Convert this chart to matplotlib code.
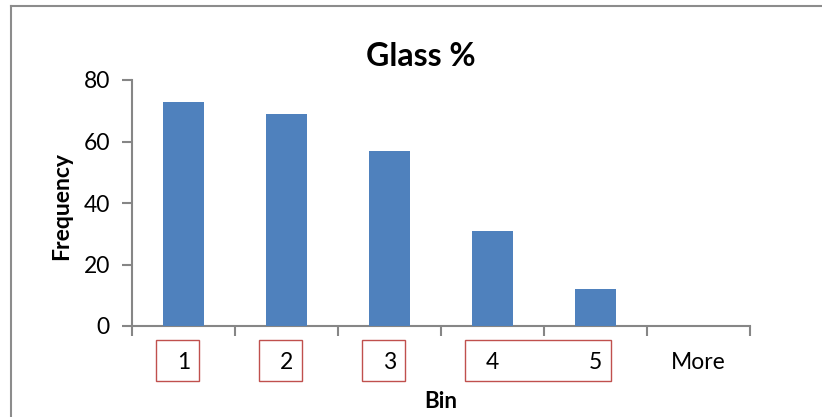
import matplotlib
matplotlib.use("Agg")
import matplotlib.pyplot as plt
from matplotlib.patches import Rectangle
from matplotlib.lines import Line2D
from matplotlib.transforms import blended_transform_factory
import numpy as np

plt.rcParams['font.family'] = ['Lato', 'DejaVu Sans']

bins = ["1", "2", "3", "4", "5", "More"]
frequency = [73, 69, 57, 31, 12, 0]
title = "Glass %"
x_label = "Bin"
y_label = "Frequency"
y_ticks = [0, 20, 40, 60, 80]

# highlighted bin groups: (first index, last index)
groups = [(0, 0), (1, 1), (2, 2), (3, 4)]

bar_color = "#4F81BD"
axis_color = "#868686"
box_color = "#C0504D"

W, H = 822, 417
fig = plt.figure(figsize=(W / 100, H / 100), dpi=100)
ax = fig.add_axes([132 / W, 1 - 326 / H, (750 - 132) / W, (326 - 80) / H])

x = np.arange(len(bins))
ax.bar(x, frequency, width=0.4, color=bar_color, zorder=3)

ax.set_xlim(-0.5, len(bins) - 0.5)
ax.set_ylim(0, 80)
ax.set_yticks(y_ticks)
ax.set_xticks(x)
ax.set_xticklabels(bins)
ax.set_xticks(np.arange(len(bins) + 1) - 0.5, minor=True)

for side in ("top", "right"):
    ax.spines[side].set_visible(False)
for side in ("left", "bottom"):
    ax.spines[side].set_color(axis_color)
    ax.spines[side].set_linewidth(1.5)

ax.tick_params(axis="y", direction="out", length=7, width=1.5, color=axis_color,
               labelsize=16.5, pad=9, labelcolor="black")
ax.tick_params(axis="x", which="major", length=0, labelsize=16.5, pad=19)
ax.tick_params(axis="x", which="minor", direction="out", length=7, width=1.5,
               color=axis_color)

# chart title centred over the whole chart area
fig.text(421 / W, 1 - 57 / H, title, fontsize=23, fontweight="bold",
         ha="center", va="center")
ax.set_xlabel(x_label, fontsize=16, fontweight="bold")
ax.xaxis.set_label_coords((441 - 132) / (750 - 132), (326 - 402) / 246)
ax.xaxis.label.set_va("center")
ax.set_ylabel(y_label, fontsize=16.5, fontweight="bold")
ax.yaxis.set_label_coords((62 - 132) / (750 - 132), (326 - 206) / 246)
ax.yaxis.label.set_va("center")

# red outlines around the grouped bin labels
trans = blended_transform_factory(ax.transData, ax.transAxes)
for lo, hi in groups:
    x0 = lo - 0.27
    x1 = hi + 0.15
    ax.add_patch(Rectangle((x0, -0.224), x1 - x0, 0.167, transform=trans,
                           fill=False, edgecolor=box_color, linewidth=1.0,
                           clip_on=False))

# chart area border (left and top edges inside the canvas)
fig.add_artist(Line2D([11 / W, 11 / W], [0, 1 - 6 / H], transform=fig.transFigure,
                      color="#8C8C8C", linewidth=1.5))
fig.add_artist(Line2D([11 / W, 1], [1 - 6 / H, 1 - 6 / H], transform=fig.transFigure,
                      color="#8C8C8C", linewidth=1.5))

fig.savefig("out.png", dpi=100)
